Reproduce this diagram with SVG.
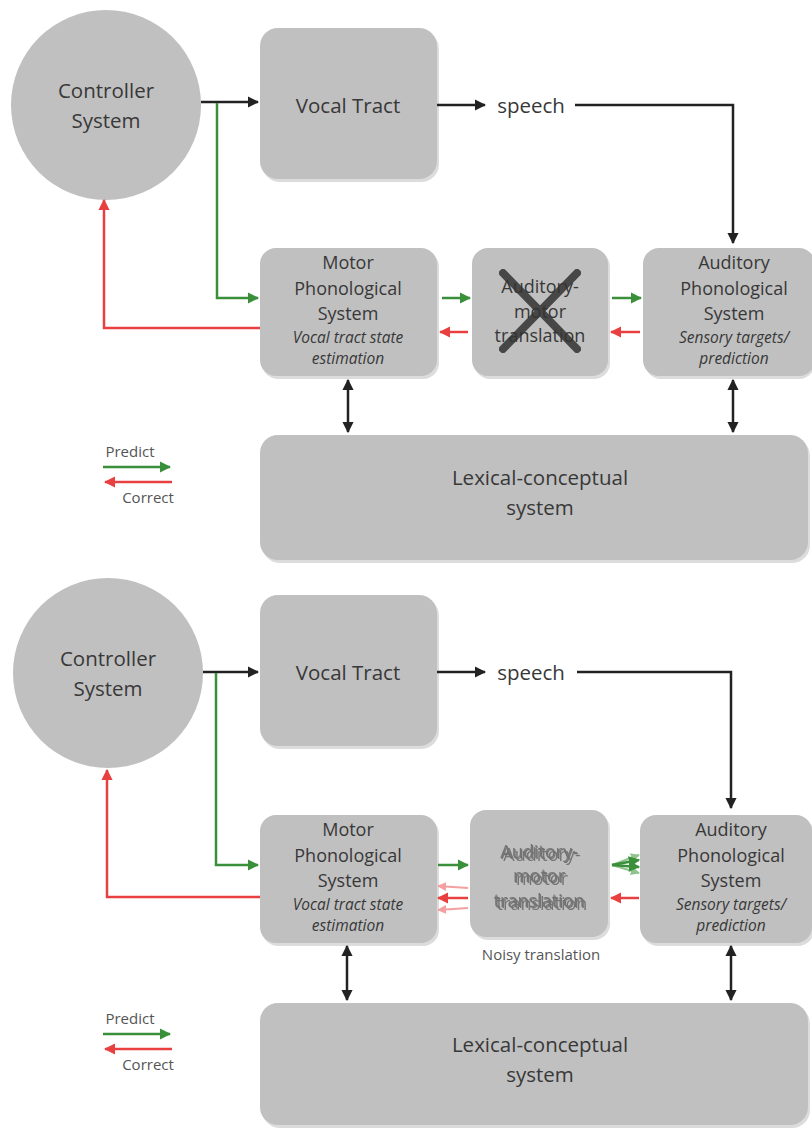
<svg xmlns="http://www.w3.org/2000/svg" width="812" height="1129" viewBox="0 0 812 1129">
<defs>
<style>
.box{fill:#c0c0c0;}
.sh{fill:#dcdcdc;}
.t{font-family:"Open Sans","Liberation Sans",sans-serif;fill:#383838;text-anchor:middle;}
.big{font-size:20.5px;}
.mid{font-size:18px;}
.it{font-size:15.5px;font-style:italic;}
.leg{font-size:15px;fill:#555;}
.k{stroke:#222;stroke-width:2.5;fill:none;}
.g{stroke:#3a8f3a;stroke-width:2.5;fill:none;}
.r{stroke:#e84040;stroke-width:2.5;fill:none;}
</style>
<filter id="noisy" x="-10%" y="-20%" width="120%" height="140%">
<feGaussianBlur in="SourceGraphic" stdDeviation="0.5" result="b"/>
<feOffset in="b" dx="-1.5" dy="-1.5" result="o1"/>
<feOffset in="b" dx="1.5" dy="1.5" result="o2"/>
<feMerge><feMergeNode in="o1"/><feMergeNode in="o2"/><feMergeNode in="b"/></feMerge>
</filter>
<marker id="ak" viewBox="0 0 10 10" refX="9" refY="5" markerWidth="4.5" markerHeight="4.5" orient="auto-start-reverse" markerUnits="strokeWidth"><path d="M0,0 L10,5 L0,10 z" fill="#222"/></marker>
<marker id="ag" viewBox="0 0 10 10" refX="9" refY="5" markerWidth="4.5" markerHeight="4.5" orient="auto" markerUnits="strokeWidth"><path d="M0,0 L10,5 L0,10 z" fill="#3a8f3a"/></marker>
<marker id="ar" viewBox="0 0 10 10" refX="9" refY="5" markerWidth="4.5" markerHeight="4.5" orient="auto" markerUnits="strokeWidth"><path d="M0,0 L10,5 L0,10 z" fill="#e84040"/></marker>
<marker id="agl" viewBox="0 0 10 10" refX="9" refY="5" markerWidth="4.5" markerHeight="4.5" orient="auto" markerUnits="strokeWidth"><path d="M0,0 L10,5 L0,10 z" fill="#8fc48f"/></marker>
<marker id="arl" viewBox="0 0 10 10" refX="9" refY="5" markerWidth="4.5" markerHeight="4.5" orient="auto" markerUnits="strokeWidth"><path d="M0,0 L10,5 L0,10 z" fill="#f4a0a0"/></marker>
</defs>
<rect width="812" height="1129" fill="#ffffff"/>

<!-- ========== TOP PANEL ========== -->
<g id="controller-top">
<circle cx="106" cy="105" r="95" class="box"/>
<text class="t big" x="106" y="98">Controller</text>
<text class="t big" x="106" y="128">System</text>
</g>
<g id="vocal-top">
<rect x="262" y="31" width="177" height="151" rx="18" class="sh"/>
<rect x="260" y="28" width="177" height="151" rx="18" class="box"/>
<text class="t big" x="348" y="113">Vocal Tract</text>
</g>
<g id="speech-top"><text class="t big" x="531" y="113">speech</text></g>
<g id="motor-top">
<rect x="262" y="251" width="177" height="128" rx="16" class="sh"/>
<rect x="260" y="248" width="177" height="128" rx="16" class="box"/>
<text class="t mid" x="348" y="269">Motor</text>
<text class="t mid" x="348" y="295">Phonological</text>
<text class="t mid" x="348" y="320">System</text>
<text class="t it" x="348" y="343">Vocal tract state</text>
<text class="t it" x="348" y="364">estimation</text>
</g>
<g id="translation-top">
<rect x="474" y="251" width="136" height="128" rx="16" class="sh"/>
<rect x="472" y="248" width="136" height="128" rx="16" class="box"/>
<text class="t mid" x="540" y="293">Auditory-</text>
<text class="t mid" x="540" y="318">motor</text>
<text class="t mid" x="540" y="342">translation</text>
<g stroke="#333" stroke-width="8" stroke-linecap="round" opacity="0.85">
<line x1="503" y1="273" x2="577" y2="349"/>
<line x1="577" y1="273" x2="503" y2="349"/>
</g>
</g>
<g id="auditory-top">
<rect x="645" y="251" width="170" height="128" rx="16" class="sh"/>
<rect x="643" y="248" width="172" height="128" rx="16" class="box"/>
<text class="t mid" x="734" y="269">Auditory</text>
<text class="t mid" x="734" y="295">Phonological</text>
<text class="t mid" x="734" y="320">System</text>
<text class="t it" x="734" y="343">Sensory targets/</text>
<text class="t it" x="734" y="364">prediction</text>
</g>
<g id="lexical-top">
<rect x="262" y="438" width="548" height="125" rx="18" class="sh"/>
<rect x="260" y="435" width="548" height="125" rx="18" class="box"/>
<text class="t big" x="540" y="485">Lexical-conceptual</text>
<text class="t big" x="540" y="515">system</text>
</g>
<g id="legend-top">
<text class="t leg" x="130" y="457">Predict</text>
<line x1="103" y1="467" x2="170" y2="467" class="g" marker-end="url(#ag)"/>
<line x1="172" y1="482" x2="105" y2="482" class="r" marker-end="url(#ar)"/>
<text class="t leg" x="148" y="503">Correct</text>
</g>

<g id="connectors-top">
<line x1="201" y1="102" x2="258" y2="102" class="k" marker-end="url(#ak)"/>
<line x1="437" y1="105" x2="485" y2="105" class="k" marker-end="url(#ak)"/>
<polyline points="575,105 733,105 733,243" class="k" marker-end="url(#ak)"/>
<polyline points="217,103 217,298 258,298" class="g" marker-end="url(#ag)"/>
<polyline points="260,328 104,328 104,200" class="r" marker-end="url(#ar)"/>
<line x1="442" y1="298" x2="470" y2="298" class="g" marker-end="url(#ag)"/>
<line x1="612" y1="298" x2="641" y2="298" class="g" marker-end="url(#ag)"/>
<line x1="468" y1="332" x2="440" y2="332" class="r" marker-end="url(#ar)"/>
<line x1="640" y1="332" x2="611" y2="332" class="r" marker-end="url(#ar)"/>
<line x1="348" y1="380" x2="348" y2="432" class="k" marker-start="url(#ak)" marker-end="url(#ak)"/>
<line x1="733" y1="380" x2="733" y2="432" class="k" marker-start="url(#ak)" marker-end="url(#ak)"/>
</g>

<!-- ========== BOTTOM PANEL ========== -->
<g id="controller-bottom">
<circle cx="108" cy="673" r="95" class="box"/>
<text class="t big" x="108" y="666">Controller</text>
<text class="t big" x="108" y="696">System</text>
</g>
<g id="vocal-bottom">
<rect x="262" y="598" width="177" height="151" rx="18" class="sh"/>
<rect x="260" y="595" width="177" height="151" rx="18" class="box"/>
<text class="t big" x="348" y="680">Vocal Tract</text>
</g>
<g id="speech-bottom"><text class="t big" x="531" y="680">speech</text></g>
<g id="motor-bottom">
<rect x="262" y="818" width="177" height="128" rx="16" class="sh"/>
<rect x="260" y="815" width="177" height="128" rx="16" class="box"/>
<text class="t mid" x="348" y="836">Motor</text>
<text class="t mid" x="348" y="862">Phonological</text>
<text class="t mid" x="348" y="887">System</text>
<text class="t it" x="348" y="910">Vocal tract state</text>
<text class="t it" x="348" y="931">estimation</text>
</g>
<g id="translation-bottom">
<rect x="472" y="813" width="138" height="127" rx="16" class="sh"/>
<rect x="470" y="810" width="138" height="127" rx="16" class="box"/>
<g filter="url(#noisy)" opacity="0.55">
<text class="t mid" x="540" y="859">Auditory-</text>
<text class="t mid" x="540" y="883">motor</text>
<text class="t mid" x="540" y="908">translation</text>
</g>
<text class="t leg" x="541" y="960">Noisy translation</text>
</g>
<g id="auditory-bottom">
<rect x="642" y="818" width="172" height="128" rx="16" class="sh"/>
<rect x="640" y="815" width="172" height="128" rx="16" class="box"/>
<text class="t mid" x="731" y="836">Auditory</text>
<text class="t mid" x="731" y="862">Phonological</text>
<text class="t mid" x="731" y="887">System</text>
<text class="t it" x="731" y="910">Sensory targets/</text>
<text class="t it" x="731" y="931">prediction</text>
</g>
<g id="lexical-bottom">
<rect x="262" y="1006" width="548" height="122" rx="18" class="sh"/>
<rect x="260" y="1003" width="548" height="122" rx="18" class="box"/>
<text class="t big" x="540" y="1052">Lexical-conceptual</text>
<text class="t big" x="540" y="1082">system</text>
</g>
<g id="legend-bottom">
<text class="t leg" x="130" y="1024">Predict</text>
<line x1="103" y1="1034" x2="170" y2="1034" class="g" marker-end="url(#ag)"/>
<line x1="172" y1="1049" x2="105" y2="1049" class="r" marker-end="url(#ar)"/>
<text class="t leg" x="148" y="1070">Correct</text>
</g>

<g id="connectors-bottom">
<line x1="203" y1="672" x2="258" y2="672" class="k" marker-end="url(#ak)"/>
<line x1="437" y1="672" x2="485" y2="672" class="k" marker-end="url(#ak)"/>
<polyline points="577,672 731,672 731,808" class="k" marker-end="url(#ak)"/>
<polyline points="216,673 216,865 258,865" class="g" marker-end="url(#ag)"/>
<polyline points="260,897 107,897 107,770" class="r" marker-end="url(#ar)"/>
<line x1="438" y1="865" x2="468" y2="865" class="g" marker-end="url(#ag)"/>
<line x1="612" y1="865" x2="639" y2="855" stroke="#8fc48f" stroke-width="2" marker-end="url(#agl)"/>
<line x1="612" y1="865" x2="639" y2="873" stroke="#8fc48f" stroke-width="2" marker-end="url(#agl)"/>
<line x1="612" y1="865" x2="639" y2="860" class="g" marker-end="url(#ag)"/>
<line x1="612" y1="865" x2="639" y2="867" class="g" marker-end="url(#ag)"/>
<line x1="468" y1="888" x2="438" y2="886" stroke="#f4a0a0" stroke-width="2" marker-end="url(#arl)"/>
<line x1="468" y1="908" x2="438" y2="910" stroke="#f4a0a0" stroke-width="2" marker-end="url(#arl)"/>
<line x1="468" y1="898" x2="438" y2="898" class="r" marker-end="url(#ar)"/>
<line x1="639" y1="898" x2="611" y2="898" class="r" marker-end="url(#ar)"/>
<line x1="347" y1="946" x2="347" y2="1000" class="k" marker-start="url(#ak)" marker-end="url(#ak)"/>
<line x1="731" y1="946" x2="731" y2="1000" class="k" marker-start="url(#ak)" marker-end="url(#ak)"/>
</g>
</svg>
